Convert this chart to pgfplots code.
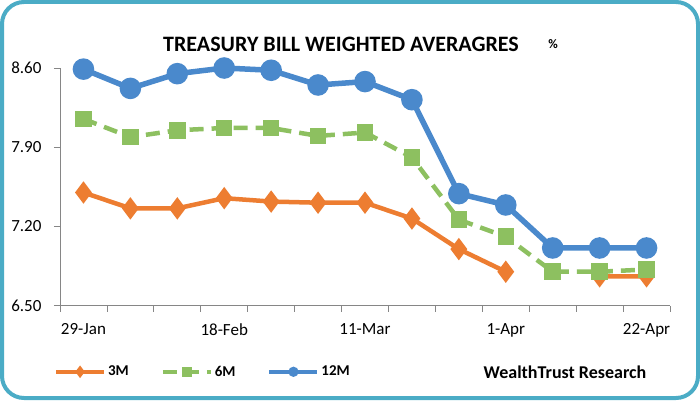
\documentclass[border=0pt]{standalone}
\usepackage{fontspec}
\setmainfont{Carlito}
\usepackage{pgfplots}
\pgfplotsset{compat=1.18}
\definecolor{c3}{HTML}{ED7D31}
\definecolor{c6}{HTML}{8DC060}
\definecolor{c12}{HTML}{4A89CC}
\definecolor{framec}{HTML}{4BACC6}
\definecolor{axc}{HTML}{868686}
\begin{document}
\begin{tikzpicture}[x=1pt,y=1pt]
\draw[framec, line width=4pt, rounded corners=22pt, fill=white] (2,2) rectangle (698,398);
\node[font=\bfseries\fontsize{22}{24}\selectfont] at (341,356) {TREASURY BILL WEIGHTED AVERAGRES};
\node[font=\bfseries\fontsize{13}{15}\selectfont] at (553,356) {\%};
\node[font=\bfseries\fontsize{18}{20}\selectfont] at (565,28) {WealthTrust Research};
\begin{axis}[
  at={(60pt,94.3pt)}, anchor=south west, scale only axis,
  width=610pt, height=237.7pt,
  xmin=-0.5, xmax=12.5, ymin=6.5, ymax=8.6,
  axis lines=left, axis line style={axc, line width=0.8pt, -},
  tick style={axc, line width=0.8pt},
  tick align=outside,
  major tick length=6pt,
  /pgf/number format/assume math mode=true,
  xtick={-0.5,0.5,...,12.5}, xticklabels={},
  extra x ticks={0,3,6,9,12},
  extra x tick labels={29-Jan,18-Feb,11-Mar,1-Apr,22-Apr},
  extra x tick style={major tick length=0pt, tick label style={yshift=-14pt}},
  ytick={6.5,7.2,7.9,8.6}, yticklabels={6.50,7.20,7.90,8.60},
  yticklabel style={xshift=-9pt},
  tick label style={font=\fontsize{17}{19}\selectfont, black},
  unbounded coords=jump,
  clip=false,
  legend image code/.code={\draw[mark repeat=2,mark phase=2,#1,mark size=3pt, line width=4pt] plot coordinates {(0pt,0pt) (24pt,0pt) (48pt,0pt)};},
  legend style={at={(-0.015,-0.278)}, anchor=west, draw=none, fill=none,
    legend columns=3, font=\bfseries\fontsize{15}{17}\selectfont,
    /tikz/every even column/.append style={column sep=30pt},
    legend cell align=left},
]
\addplot[c3, line width=4.5pt, mark=diamond*, mark size=7.5pt]
 coordinates {(0,7.50) (1,7.36) (2,7.36) (3,7.45) (4,7.42) (5,7.41) (6,7.41) (7,7.27) (8,7.00) (9,6.80) (10,nan) (11,6.76) (12,6.76)};
\addlegendentry{3M}
\addplot[c6, line width=4.5pt, dash pattern=on 14pt off 8pt, mark=square*, mark size=6pt, mark options={solid}]
 coordinates {(0,8.15) (1,7.99) (2,8.05) (3,8.07) (4,8.07) (5,8.00) (6,8.03) (7,7.81) (8,7.26) (9,7.11) (10,6.80) (11,6.80) (12,6.82)};
\addlegendentry{6M}
\addplot[c12, line width=5.5pt, mark=*, mark size=8pt]
 coordinates {(0,8.59) (1,8.42) (2,8.55) (3,8.60) (4,8.58) (5,8.45) (6,8.48) (7,8.32) (8,7.49) (9,7.39) (10,7.01) (11,7.01) (12,7.01)};
\addlegendentry{12M}
\end{axis}
\end{tikzpicture}
\end{document}
